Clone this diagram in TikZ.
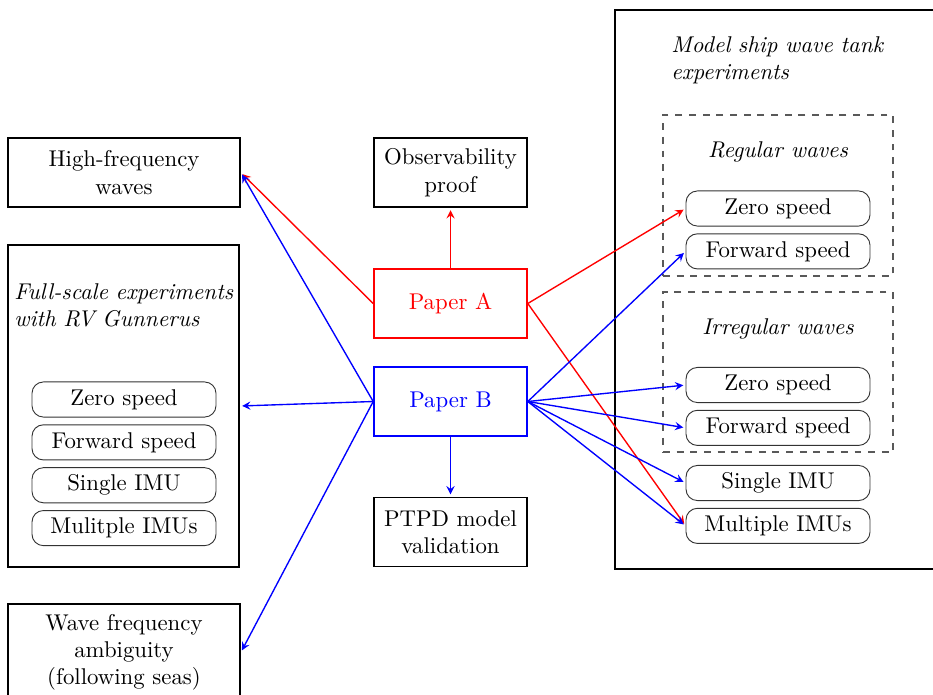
\documentclass[tikz,border=0pt]{standalone}
\usepackage{tikz}
\usetikzlibrary{positioning}
\tikzset{
node distance=18.8pt, % step between the small rounded boxes
box/.style={draw, thick, align=center, text width=88pt, minimum width=101.7pt, minimum height=30.3pt, inner ysep=4.5pt},
cbox/.style={box, text width=60pt, minimum width=67pt},
rbox/.style={draw=black!80, thin, rounded corners=5pt, minimum width=80.7pt, minimum height=15.4pt, inner sep=0pt},
dbox/.style={draw=black!65, dashed, semithick, minimum width=100.9pt},
bigbox/.style={draw, thick, inner sep=0pt},
heading/.style={font=\itshape, align=left, text width=100pt, inner sep=0pt},
}

\begin{document}
\begin{tikzpicture}[x=0.4386pt, y=-0.4386pt, shorten >=1pt, on grid, >=stealth]
		\useasboundingbox (0,0) rectangle (933,694);
		% papers in the middle
		\node[cbox] (obs) at (450.5,172.5) {Observability proof};
		\node[cbox, draw=red, text=red] (p_a) at (450.5,303.5) {Paper A};
		\node[cbox, draw=blue, text=blue] (p_b) at (450.5,401.5) {Paper B};
		\node[cbox] (ptpd) at (450.5,532) {PTPD model validation};
		% full-scale side
		\node[box] (hf) at (124,172.5) {High-frequency waves};
		\node[bigbox, minimum width=101.3pt, minimum height=141.2pt] (fs) at (123.5,406) {};
		\node[heading, anchor=west] (fs_t) at (14,305.5) {Full-scale experiments with RV Gunnerus};
		\node[rbox] (fs_0) at (124,399.5) {Zero speed};
		\node[rbox] (fs_1) [below=of fs_0] {Forward speed};
		\node[rbox] (fs_2) [below=of fs_1] {Single IMU};
		\node[rbox] (fs_3) [below=of fs_2] {Mulitple IMUs};
		\node[box, anchor=north] (wf) at (124,603) {Wave frequency\\ambiguity\\(following seas)};
		% wave tank side
		\node[bigbox, anchor=north west, minimum width=160pt, minimum height=245.2pt] (ms) at (614,9) {};
		\node[heading, anchor=west] (ms_t) at (671,60) {Model ship wave tank experiments};
		\node[dbox, minimum height=70.6pt] (rw) at (778,195.5) {};
		\node[font=\itshape] (rw_t) at (778,152) {Regular waves};
		\node[rbox] (rw_0) at (778,208.5) {Zero speed};
		\node[rbox] (rw_1) [below=of rw_0] {Forward speed};
		\node[dbox, minimum height=70.2pt] (iw) at (778,372) {};
		\node[font=\itshape] (iw_t) at (778,329) {Irregular waves};
		\node[rbox] (iw_0) at (778,385) {Zero speed};
		\node[rbox] (iw_1) [below=of iw_0] {Forward speed};
		\node[rbox] (ms_0) at (778,483) {Single IMU};
		\node[rbox] (ms_1) [below=of ms_0] {Multiple IMUs};
		\path[->, red, semithick]
		(p_a.west) edge (hf.east)
		(p_a.north) edge (obs.south)
		(p_a.east) edge (rw_0.west)
		(p_a.east) edge (ms_1.west);
		\path[->, blue, semithick]
		(p_b.west) edge (hf.east)
		(p_b.west) edge (fs.east)
		(p_b.west) edge (wf.east)
		(p_b.south) edge (ptpd.north)
		(p_b.east) edge (rw_1.west)
		(p_b.east) edge (iw_0.west)
		(p_b.east) edge (iw_1.west)
		(p_b.east) edge (ms_0.west)
		(p_b.east) edge (ms_1.west);
		\end{tikzpicture}
\end{document}
